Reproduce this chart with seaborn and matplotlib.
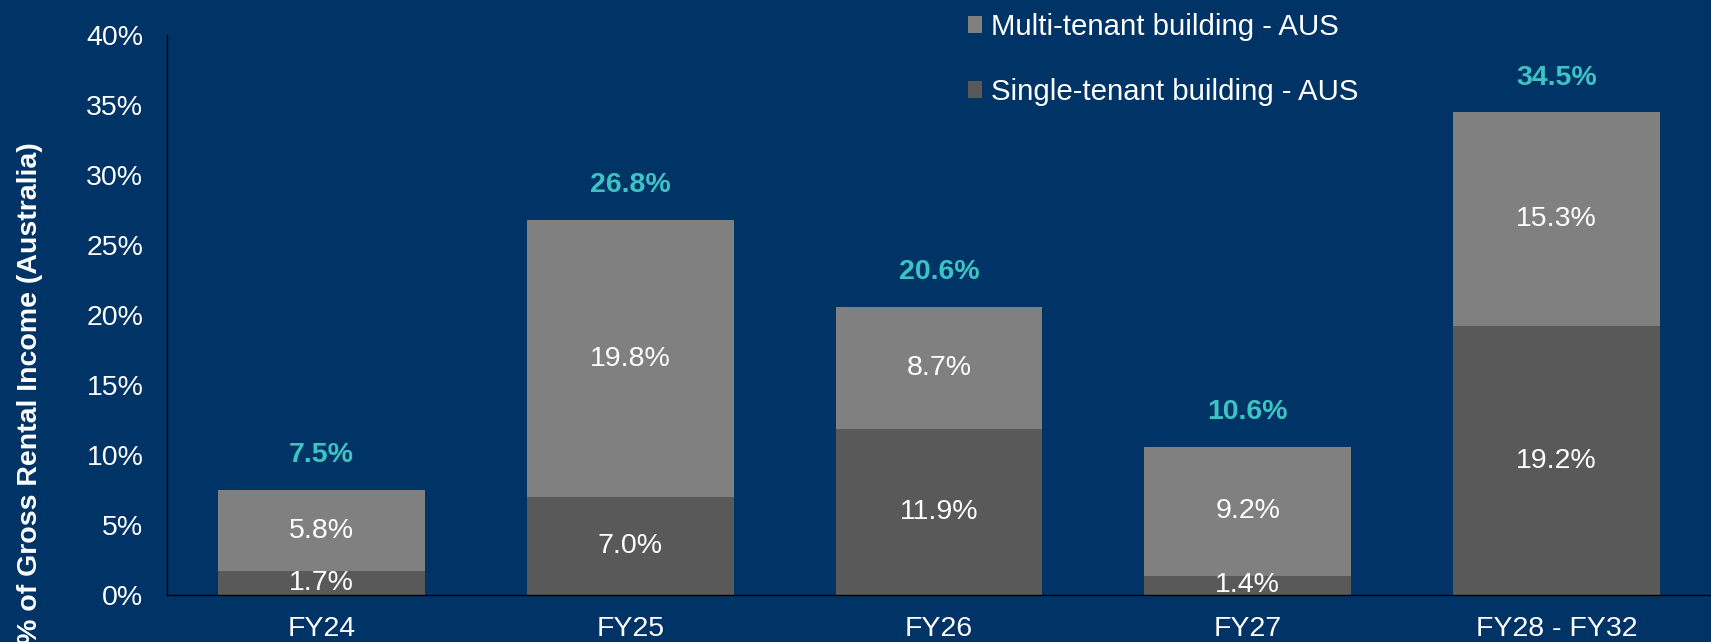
import matplotlib
matplotlib.use('Agg')
import matplotlib.pyplot as plt
import matplotlib.ticker as mticker
import seaborn as sns
import pandas as pd
import numpy as np

# data
periods = ['FY24', 'FY25', 'FY26', 'FY27', 'FY28 - FY32']
multi_tenant = [5.8, 19.8, 8.7, 9.2, 15.3]
single_tenant = [1.7, 7.0, 11.9, 1.4, 19.2]
totals = [7.5, 26.8, 20.6, 10.6, 34.5]

BG = '#003366'
LIGHT = '#808080'
DARK = '#595959'
TEAL = '#3CC4C4'
FS = 20.5

sns.set_style('white')
plt.rcParams['font.family'] = ['Liberation Sans', 'DejaVu Sans']

df = pd.DataFrame({'period': periods, 'multi': multi_tenant,
                   'single': single_tenant, 'total': totals})
df['stack'] = df['multi'] + df['single']

fig = plt.figure(figsize=(17.11, 6.42), dpi=100, facecolor=BG)
ax = fig.add_axes([0.0976, 0.073, 0.9024, 0.872])
ax.set_facecolor(BG)

# stacked bars: full stack first, single-tenant drawn over it
sns.barplot(data=df, x='period', y='stack', color=LIGHT, width=0.67,
            saturation=1, linewidth=0, label='Multi-tenant building - AUS', ax=ax)
sns.barplot(data=df, x='period', y='single', color=DARK, width=0.67,
            saturation=1, linewidth=0, label='Single-tenant building - AUS', ax=ax)

# segment labels
for i, row in df.iterrows():
    ax.text(i, row['single'] / 2, f"{row['single']:.1f}%", ha='center', va='center',
            color='white', fontsize=FS)
    ax.text(i, row['single'] + row['multi'] / 2, f"{row['multi']:.1f}%", ha='center',
            va='center', color='white', fontsize=FS)
    ax.annotate(f"{row['total']:.1f}%", (i, row['stack']), xytext=(0, 25),
                textcoords='offset points', ha='center', va='center',
                color=TEAL, fontsize=FS, fontweight='bold')

ax.set_ylim(0, 40)
ax.set_xlim(-0.5, 4.5)
ax.yaxis.set_major_locator(mticker.MultipleLocator(5))
ax.yaxis.set_major_formatter(mticker.FuncFormatter(lambda v, p: f"{v:.0f}%"))

# ticks at category boundaries, labels at centres
ax.set_xticks(np.arange(-0.5, 5.0, 1.0))
ax.set_xticklabels([])
ax.set_xticks(range(len(periods)), minor=True)
ax.set_xticklabels(periods, minor=True)
ax.tick_params(axis='x', which='major', length=7, width=1, color='black', direction='out')
ax.tick_params(axis='x', which='minor', length=0, labelsize=FS, labelcolor='white', pad=15)
ax.tick_params(axis='y', length=7, width=1, color='black', direction='out',
               labelsize=FS, labelcolor='white', pad=10)

for s in ['top', 'right']:
    ax.spines[s].set_visible(False)
for s in ['left', 'bottom']:
    ax.spines[s].set_color('black')
    ax.spines[s].set_linewidth(1)

# y label sits low in the reference, running off the bottom edge
ax.set_xlabel('')
ax.set_ylabel('% of Gross Rental Income (Australia)', color='white', fontsize=FS,
              fontweight='bold')
ax.yaxis.set_label_coords(-0.0803, 0.36)

leg = ax.legend(loc='upper left', bbox_to_anchor=(0.557, 1.003),
                bbox_transform=fig.transFigure, frameon=False, fontsize=21.2,
                handlelength=0.5, handleheight=0.5, handletextpad=0.3,
                labelspacing=1.25, borderpad=0)
for t in leg.get_texts():
    t.set_color('white')

fig.savefig('out.png', dpi=100, facecolor=BG)
